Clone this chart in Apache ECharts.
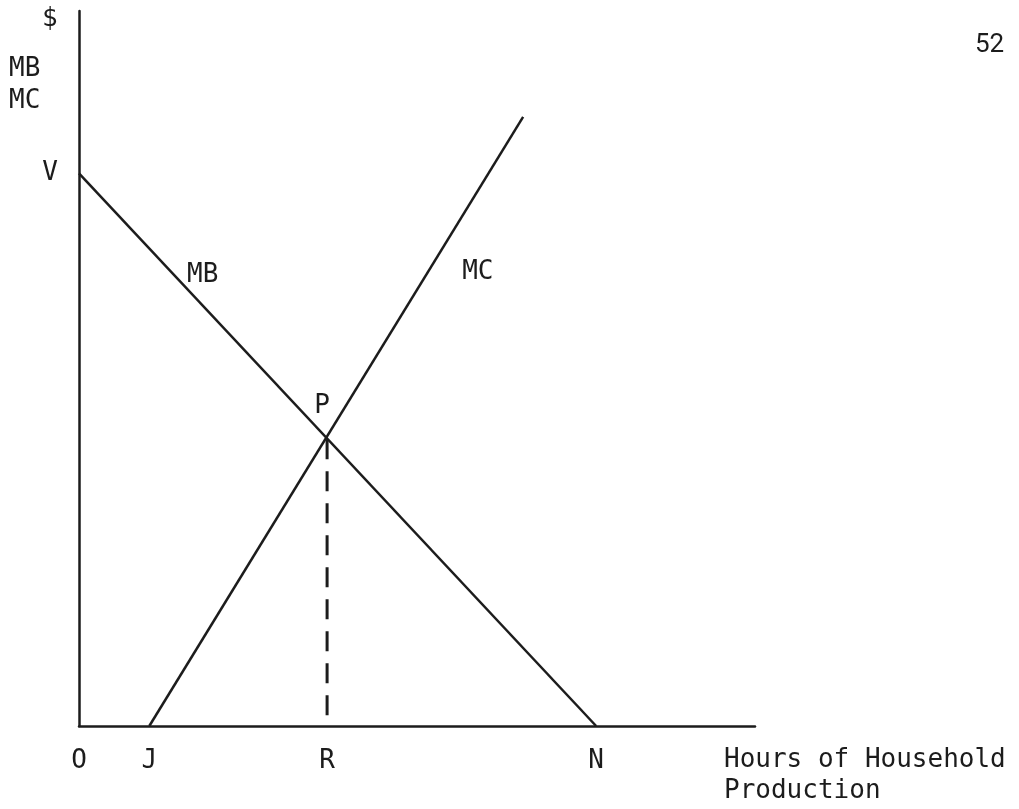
<!DOCTYPE html>
<html>
<head>
<meta charset="utf-8">
<script src="https://cdn.jsdelivr.net/npm/echarts@6/dist/echarts.min.js"></script>
<style>
  html, body { margin: 0; padding: 0; background: #fff; }
  #chart { width: 1019px; height: 809px; }
</style>
</head>
<body>
<div id="chart"></div>
<script>
  // points of the diagram, in axis units (0..100 on both axes)
  const xPoints = [0, 10.4, 36.7, 76.5];
  const xPointNames = ['O', 'J', 'R', 'N'];
  const yPoints = [77.3];
  const yPointNames = ['V'];
  const mbLine = [[0, 77.3], [76.5, 0]];
  const mcLine = [[10.4, 0], [65.7, 85.2]];
  const pointP = [36.7, 40.1];
  const curveNames = ['MB', 'MC'];
  const curveNamePos = [[18.3, 63.1], [59.0, 63.4]];

  const ink = '#1c1c1c';
  const font = '"DejaVu Sans Mono", monospace';

  const myChart = echarts.init(document.getElementById('chart'));
  const options = {
    backgroundColor: '#fff',
    animation: false,
    grid: { left: 79, right: 264, top: 11, bottom: 83 },
    xAxis: {
      type: 'value',
      min: 0,
      max: 100,
      name: 'Hours of Household\nProduction',
      nameLocation: 'end',
      nameGap: -31,
      nameTextStyle: {
        color: ink, fontFamily: font, fontSize: 26, lineHeight: 31,
        align: 'left', verticalAlign: 'top', padding: [19, 0, 0, 0]
      },
      axisLine: { lineStyle: { color: ink, width: 2.5 } },
      axisTick: { show: false },
      splitLine: { show: false },
      axisLabel: {
        customValues: xPoints,
        margin: 22,
        color: ink, fontFamily: font, fontSize: 26,
        formatter: function (v) {
          const i = xPoints.indexOf(v);
          return i >= 0 ? xPointNames[i] : '';
        }
      }
    },
    yAxis: {
      type: 'value',
      min: 0,
      max: 100,
      axisLine: { lineStyle: { color: ink, width: 2.5 } },
      axisTick: { show: false },
      splitLine: { show: false },
      axisLabel: {
        customValues: yPoints,
        margin: 21,
        color: ink, fontFamily: font, fontSize: 26,
        formatter: function (v) {
          const i = yPoints.indexOf(v);
          return i >= 0 ? yPointNames[i] : '';
        }
      }
    },
    graphic: [
      { type: 'text', left: 42, top: 6, style: { text: '$', fill: ink, font: '26px ' + font } },
      { type: 'text', left: 9, top: 53, style: { text: 'MB\nMC', fill: ink, font: '26px ' + font, lineHeight: 32 } },
      { type: 'text', left: 975, top: 32, style: { text: '52', fill: ink, font: '26px Roboto, sans-serif' } }
    ],
    series: [
      {
        name: 'MB',
        type: 'line',
        data: mbLine,
        symbol: 'none',
        lineStyle: { color: ink, width: 2.5 }
      },
      {
        name: 'MC',
        type: 'line',
        data: mcLine,
        symbol: 'none',
        lineStyle: { color: ink, width: 2.5 }
      },
      {
        name: 'PR',
        type: 'line',
        data: [pointP, [pointP[0], 0]],
        symbol: 'none',
        lineStyle: { color: ink, width: 3, type: [20, 12] }
      },
      {
        name: 'P',
        type: 'scatter',
        data: [pointP],
        symbolSize: 0,
        itemStyle: { color: ink, opacity: 1 },
        label: {
          show: true, position: 'top', distance: 20, offset: [-5, 0],
          formatter: 'P', color: ink, fontFamily: font, fontSize: 26
        }
      },
      {
        name: 'curveNames',
        type: 'scatter',
        data: curveNamePos.map(function (p, i) { return { value: p, name: curveNames[i] }; }),
        symbolSize: 0,
        itemStyle: { color: ink, opacity: 1 },
        label: {
          show: true, position: 'inside',
          formatter: '{b}', color: ink, fontFamily: font, fontSize: 26
        }
      }
    ]
  };
  myChart.setOption(options, true);
  window.addEventListener('resize', function () {
    myChart.resize();
  });
</script>
</body>
</html>
